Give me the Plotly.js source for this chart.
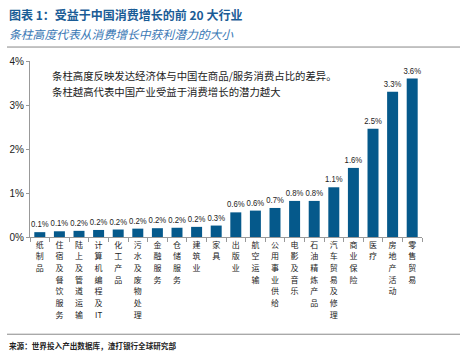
<!DOCTYPE html>
<html><head><meta charset="utf-8">
<script src="https://cdn.plot.ly/plotly-3.0.1.min.js"></script>
<style>html,body{margin:0;padding:0;background:#fff}#c{width:468px;height:362px}</style>
</head><body><div id="c"></div>
<script>
const categories = ['纸制品','住宿及餐饮服务','陆上及管道运输','计算机编程及IT','化工产品','污水及废物处理','金融服务','仓储服务','建筑业','家具','出版业','航空运输','公用事业供给','电影及音乐','石油精炼产品','汽车贸易及修理','商业保险','医疗','房地产活动','零售贸易'];
const values = [0.11,0.13,0.14,0.16,0.17,0.19,0.20,0.21,0.23,0.26,0.56,0.60,0.66,0.82,0.82,1.13,1.57,2.46,3.30,3.60];
const valueLabels = ['0.1%','0.1%','0.2%','0.2%','0.2%','0.2%','0.2%','0.2%','0.2%','0.3%','0.6%','0.6%','0.7%','0.8%','0.8%','1.1%','1.6%','2.5%','3.3%','3.6%'];
const yTickVals = [0,1,2,3,4];
const yTickText = ['0%','1%','2%','3%','4%'];
const titleText = '图表 1：受益于中国消费增长的前 20 大行业';
const subtitleText = '条柱高度代表从消费增长中获利潜力的大小';
const noteLines = ['条柱高度反映发达经济体与中国在商品/服务消费占比的差异。','条柱越高代表中国产业受益于消费增长的潜力越大'];
const sourceText = '来源：世界投入产出数据库，渣打银行全球研究部';

const W=468,H=362,L=30,R=46,T=61,B=124.5;
const pw=W-L-R, ph=H-T-B;
const px=x=>(x-L)/pw, py=y=>1-(y-T)/ph;

function vertical(s){
  const out=[]; let i=0;
  while(i<s.length){
    if(/[A-Za-z]/.test(s[i])){let j=i;while(j<s.length&&/[A-Za-z]/.test(s[j]))j++;out.push(s.slice(i,j));i=j;}
    else{out.push(s[i]);i++;}
  }
  return out.join('<br>');
}

const cjk='"Noto Sans CJK SC", sans-serif';
const trace={type:'bar',x:categories,y:values,text:valueLabels,textposition:'outside',cliponaxis:false,constraintext:'none',
  textfont:{family:'"Liberation Sans", Arial, sans-serif',size:9.2,color:'#222'},
  marker:{color:'#05598b'},hoverinfo:'skip'};

const layout={width:W,height:H,margin:{l:L,r:R,t:T,b:B},paper_bgcolor:'#fff',plot_bgcolor:'#fff',
  showlegend:false,bargap:0.44,
  xaxis:{type:'category',tickmode:'array',tickvals:categories,ticktext:categories.map(vertical),
    tickfont:{family:cjk,size:8,color:'#222'},showline:true,linecolor:'#999',linewidth:1,
    ticks:'outside',ticklen:4,tickcolor:'#999',tickson:'boundaries',showgrid:false,tickangle:0,automargin:false},
  yaxis:{range:[0,4],tickvals:yTickVals,ticktext:yTickText,showline:true,linecolor:'#999',linewidth:1,
    ticks:'outside',ticklen:3,tickcolor:'#999',showgrid:false,zeroline:false,
    tickfont:{family:'"Liberation Sans", Arial, sans-serif',size:10,color:'#222'},automargin:false},
  shapes:[
    {type:'line',xref:'paper',yref:'paper',x0:px(7),x1:px(460),y0:py(47),y1:py(47),line:{color:'#888',width:1}},
    {type:'line',xref:'paper',yref:'paper',x0:px(7),x1:px(460),y0:py(335),y1:py(335),line:{color:'#888',width:1}}
  ],
  annotations:[
    {text:'<b>'+titleText+'</b>',xref:'paper',yref:'paper',x:px(7),y:py(14),xanchor:'left',yanchor:'middle',showarrow:false,
      font:{family:cjk,size:12,color:'#1a5c96'}},
    {text:'<i>'+subtitleText+'</i>',xref:'paper',yref:'paper',x:px(7),y:py(33),xanchor:'left',yanchor:'middle',showarrow:false,
      font:{family:cjk,size:11.8,color:'#3a78b5'}},
    {text:noteLines[0],xref:'paper',yref:'paper',x:px(50),y:py(76),xanchor:'left',yanchor:'middle',showarrow:false,
      font:{family:cjk,size:10.4,color:'#222'}},
    {text:noteLines[1],xref:'paper',yref:'paper',x:px(50),y:py(92),xanchor:'left',yanchor:'middle',showarrow:false,
      font:{family:cjk,size:10.4,color:'#222'}},
    {text:'<b>'+sourceText+'</b>',xref:'paper',yref:'paper',x:px(7),y:py(346),xanchor:'left',yanchor:'middle',showarrow:false,
      font:{family:cjk,size:7.6,color:'#222'}}
  ]};
Plotly.newPlot('c',[trace],layout,{staticPlot:true,displayModeBar:false}).then(gd=>{
  gd.querySelectorAll('.bartext').forEach(t=>{
    const w=t.getComputedTextLength();
    t.setAttribute('textLength',(w*0.84).toFixed(2));
    t.setAttribute('lengthAdjust','spacingAndGlyphs');
  });
  gd.querySelectorAll('.xtick text tspan.line').forEach(s=>{
    const d=s.getAttribute('dy');
    if(d){const k=parseFloat(d); if(!isNaN(k)) s.setAttribute('dy',(k*1.46/1.3).toFixed(3)+'em');}
  });
});
</script></body></html>
